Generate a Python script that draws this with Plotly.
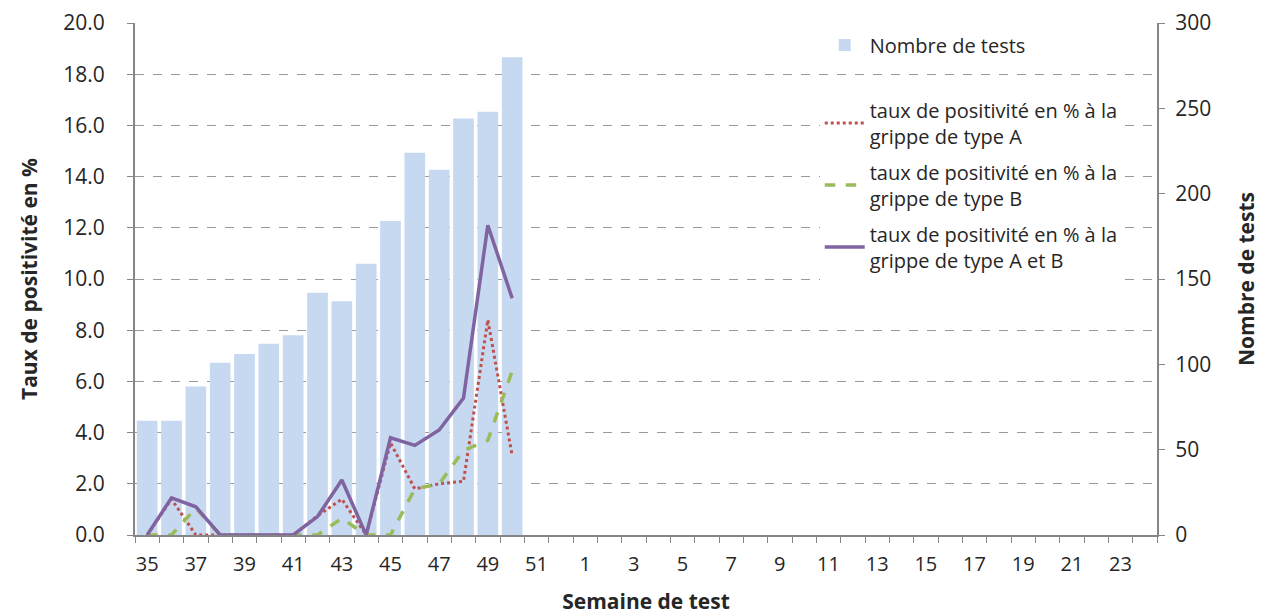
import plotly.graph_objects as go

weeks = ["35", "36", "37", "38", "39", "40", "41", "42", "43", "44", "45", "46", "47", "48",
         "49", "50", "51", "52", "1", "2", "3", "4", "5", "6", "7", "8", "9", "10", "11", "12",
         "13", "14", "15", "16", "17", "18", "19", "20", "21", "22", "23", "24"]
tick_labels = ["35", "", "37", "", "39", "", "41", "", "43", "", "45", "", "47", "", "49", "",
               "51", "", "1", "", "3", "", "5", "", "7", "", "9", "", "11", "", "13", "", "15", "",
               "17", "", "19", "", "21", "", "23", ""]

data_weeks = ["35", "36", "37", "38", "39", "40", "41", "42", "43", "44", "45", "46", "47", "48", "49", "50"]
nb_tests = [67, 67, 87, 101, 106, 112, 117, 142, 137, 159, 184, 224, 214, 244, 248, 280]
taux_A = [0, 1.4, 0, 0, 0, 0, 0, 0.75, 1.4, 0, 3.6, 1.8, 2.0, 2.1, 8.4, 3.1]
taux_B = [0, 0, 1.05, 0, 0, 0, 0, 0, 0.65, 0, 0, 1.8, 2.0, 3.3, 3.7, 6.4]
taux_AB = [0, 1.45, 1.1, 0, 0, 0, 0, 0.72, 2.15, 0, 3.8, 3.5, 4.1, 5.35, 12.1, 9.25]

FONT = "Open Sans"
TXT = "#262626"
AX = "#868686"
TICK_SIZE = 21
TITLE_SIZE = 21
LEG_SIZE = 20

fig = go.Figure()
fig.add_trace(go.Bar(x=data_weeks, y=nb_tests, name="Nombre de tests",
                     marker=dict(color="#C6D9F1", line=dict(width=0)),
                     yaxis="y", legend="legend"))
fig.add_trace(go.Scatter(x=data_weeks, y=taux_A, mode="lines",
                         name="taux de positivité en % à la<br>grippe de type A",
                         line=dict(color="#C0504D", width=3, dash="dot"),
                         yaxis="y2", legend="legend2", legendgroup="a"))
fig.add_trace(go.Scatter(x=data_weeks, y=taux_B, mode="lines",
                         name="taux de positivité en % à la<br>grippe de type B",
                         line=dict(color="#9BBB59", width=3.5, dash="dash"),
                         yaxis="y2", legend="legend2", legendgroup="b"))
fig.add_trace(go.Scatter(x=data_weeks, y=taux_AB, mode="lines",
                         name="taux de positivité en % à la<br>grippe de type A et B",
                         line=dict(color="#8064A2", width=3.5),
                         yaxis="y2", legend="legend2", legendgroup="ab"))

fig.update_layout(
    width=1256, height=607,
    margin=dict(l=127, r=107, t=15, b=80),
    paper_bgcolor="white", plot_bgcolor="white",
    font=dict(family=FONT, size=LEG_SIZE, color=TXT),
    bargap=0.15,
    showlegend=True,
    legend=dict(x=0.67, y=0.995, xanchor="left", yanchor="top",
                bgcolor="white", font=dict(family=FONT, size=LEG_SIZE, color=TXT),
                itemwidth=40, entrywidth=320, borderwidth=0,
                bordercolor="white"),
    legend2=dict(x=0.67, y=0.868, xanchor="left", yanchor="top",
                 bgcolor="white", font=dict(family=FONT, size=LEG_SIZE, color=TXT),
                 traceorder="grouped", tracegroupgap=7, itemwidth=40,
                 entrywidth=320),
    xaxis=dict(type="category", categoryorder="array", categoryarray=weeks,
               range=[-0.5, len(weeks) - 0.5],
               tickmode="array", tickvals=weeks, ticktext=tick_labels, tickangle=0,
               tickson="boundaries", ticks="outside", ticklen=6, tickcolor=AX,
               showline=True, linecolor=AX, linewidth=2, showgrid=False,
               ticklabelstandoff=10,
               tickfont=dict(family=FONT, size=TICK_SIZE - 1, color=TXT),
               automargin=False,
               title=dict(text="<b>Semaine de test</b>", standoff=26,
                          font=dict(family=FONT, size=TITLE_SIZE, color=TXT))),
    yaxis=dict(side="right", range=[0, 300], tickmode="array",
               tickvals=[0, 50, 100, 150, 200, 250, 300],
               ticks="outside", ticklen=6, tickcolor=AX,
               showline=True, linecolor=AX, linewidth=2, showgrid=False,
               zeroline=False, ticklabelstandoff=6, automargin=False,
               tickfont=dict(family=FONT, size=TICK_SIZE, color=TXT),
               title=dict(text="<b>Nombre de tests</b>", standoff=29,
                          font=dict(family=FONT, size=TITLE_SIZE, color=TXT))),
    yaxis2=dict(side="left", overlaying="y", range=[0, 20],
                tickmode="array", tickvals=[0, 2, 4, 6, 8, 10, 12, 14, 16, 18, 20],
                tickformat=".1f",
                ticks="outside", ticklen=6, tickcolor=AX,
                showline=True, linecolor=AX, linewidth=2,
                showgrid=True, gridcolor="#9a9a9a", griddash="dash", gridwidth=1,
                zeroline=False, ticklabelstandoff=18, automargin=False,
                tickfont=dict(family=FONT, size=TICK_SIZE, color=TXT),
                title=dict(text="<b>Taux de positivité en %</b>", standoff=20,
                           font=dict(family=FONT, size=TITLE_SIZE, color=TXT))),
)

fig.write_html("out.html")
